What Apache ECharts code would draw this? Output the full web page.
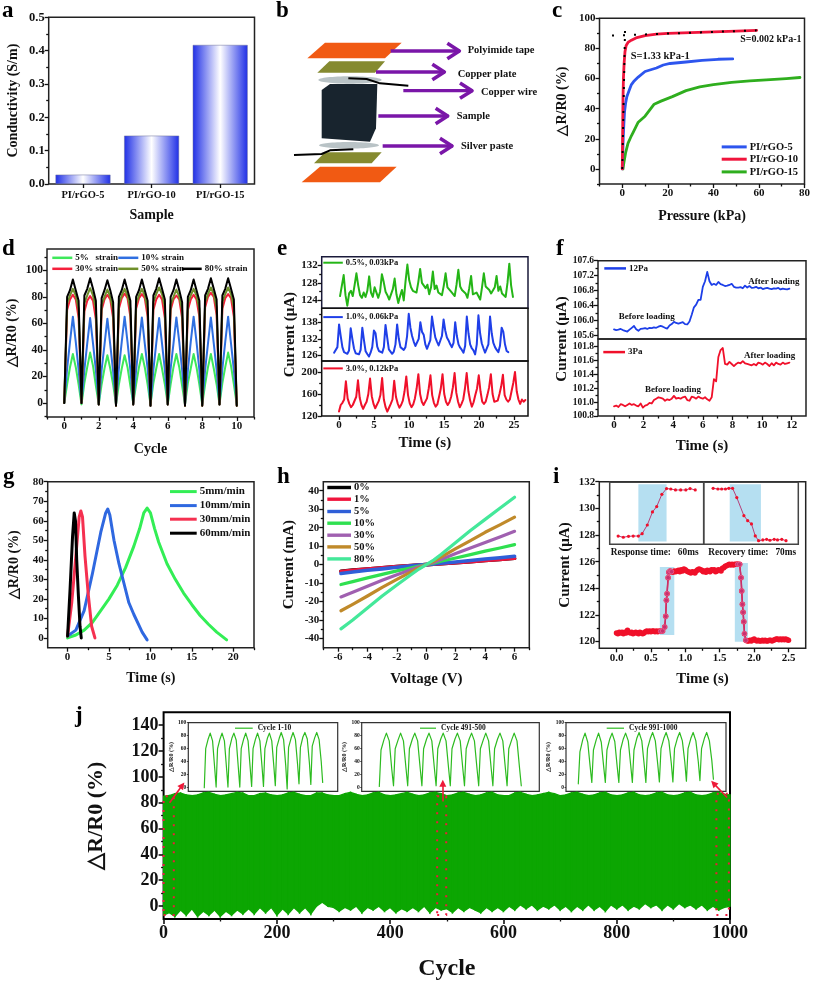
<!DOCTYPE html>
<html><head><meta charset="utf-8">
<style>html,body{margin:0;padding:0;background:#fff}#c{width:813px;height:982px}</style>
<script src="https://cdn.jsdelivr.net/npm/echarts@6/dist/echarts.min.js"></script>
</head><body><div id="c"></div>
<script>
// ---------- data ----------
const aCats=['PI/rGO-5','PI/rGO-10','PI/rGO-15'];
const aVals=[0.028,0.145,0.417];

const cBlue=[[0,0],[.2,10],[.4,20],[.7,30],[1,38],[1.5,44],[2,48],[3,52],[4,56],[5,58],[7,61],[10,64.7],[15,67],[18,69],[21,70],[28,71],[35,72],[42,72.8],[48.5,73]];
const cRed=[[0,0],[.1,15],[.2,30],[.3,45],[.5,60],[.8,70],[1.2,78],[1.7,82],[2.5,84],[4,85.5],[6,87],[10,88.5],[15,89.5],[20,90],[30,90.5],[40,91],[50,91.5],[59,92]];
const cGreen=[[.3,0],[.8,5],[1.5,11],[2.5,17],[4,22],[5,25],[7,31],[10,35],[14,43],[17,45],[22,48],[28,52],[34,54.5],[40,56],[48,57.5],[56,58.5],[65,59.3],[72,60],[78,60.7]];
const cTan1=[[0,0],[1.2,92]];
const cTan2=[[-4.5,88.5],[59,92]];

const dGreen=[0,14,27,37,27,14,-1,15,27,38,28,13,-1,14,26,36,26,14,-1,14,26,36,27,13,0,14,27,37,27,14,-1,15,26,37,26,14,-1,14,27,37,27,13,-1,15,26,37,27,14,-1,14,27,37,26,14,-1,15,27,38,28,14,-1];
const dBlue=[0,26,46,65,46,25,0,25,45,64,45,25,-1,25,44,63.5,44,24,-1,26,46,65,46,25,-1,25,45,64.5,45,26,-2,25,45,64,45,25,-1,26,45,64.5,46,25,-1,25,46,65,46,25,-1,25,45,64.5,45,25,-1,26,46,65,45,25,-1];
const dRed=[0,70,78,81.5,78,64,0,69,77,80.5,77,63,-1,70,78,81.5,78,64,-2,71,79,82.5,79,65,-1,71,79,82,79,65,-2,70,78,81.5,78,64,-1,70,78,81,78,64,-2,70,78,81.5,78,65,-2,72,80,83,80,66,-1,71,79,82,79,65,-2];
const dOlive=[0,75,81,86,81,71,0,75,81,86.5,81,71,-1,74,80,85.5,80,70,-2,75,81,86,81,71,-1,75,81,86,81,71,-2,76,82,87,82,72,-1,74,80,85.5,80,70,-2,75,81,86,81,71,-2,76,82,87,82,72,-1,76,82,87,82,72,-2];
const dBlack=[0,80,85,93,85,77,0,81,86,94,86,77,-1,79,85,92.5,85,76,-2,80,85,93,85,77,-1,80,85,93,85,77,-2,81,86,94,86,78,-1,80,85,93,85,76,-2,80,85,93,85,77,-2,81,86,94,86,78,-1,81,86,94,86,78,-2];

const eGreen=[125.0,125.4,129.8,125.2,122.8,125.6,126.2,125.0,127.5,130.2,127.4,125.2,124.6,125.8,124.8,126.2,129.5,125.8,124.8,127.0,127.2,124.6,126.0,130.0,128.2,126.0,125.2,124.2,124.2,126.6,129.0,125.4,123.4,125.0,126.4,124.0,128.4,132.2,128.6,127.0,126.2,126.6,125.8,128.2,131.2,128.0,128.4,126.8,127.6,125.4,127.0,130.6,126.6,127.4,125.8,125.4,125.2,127.4,130.2,127.0,126.6,126.0,125.8,125.0,127.6,131.0,127.2,126.4,126.8,125.6,124.6,126.8,129.6,125.4,125.0,125.8,126.2,124.2,127.0,130.2,127.2,127.6,126.4,125.6,125.4,127.0,129.6,126.2,127.2,125.6,125.2,124.8,128.0,132.4,127.4,124.8];
const eBlue=[127.0,127.4,129.0,137.2,133.0,129.0,127.2,127.0,126.6,127.8,135.8,132.0,128.5,126.8,126.2,126.4,128.0,136.0,131.5,127.5,126.5,125.6,127.0,129.0,135.0,134.0,129.2,127.6,127.2,127.0,129.0,137.0,132.5,128.2,127.4,126.6,127.4,130.0,137.2,132.0,129.0,128.4,128.0,129.0,133.0,141.0,136.0,133.0,131.0,129.4,129.0,132.0,138.0,134.5,133.5,130.0,128.4,128.6,131.5,140.0,136.0,132.5,131.0,129.6,130.0,133.0,139.0,135.0,132.5,131.4,130.0,129.0,130.5,138.0,133.0,130.0,128.8,128.0,127.0,129.5,140.0,134.0,130.0,128.6,127.8,126.4,130.0,140.5,134.0,130.4,128.6,127.0,127.4,130.0,140.0,134.0,130.5,129.0,128.0,127.2,129.5,136.0,134.5,130.0,127.6,127.2];
const eRed=[128,140,144,150,183,152,142,136,140,143,155,185,153,140,133,140,146,160,188,156,142,134,137,147,158,189,150,136,128,135,142,150,184,155,143,135,140,148,165,192,158,143,136,141,152,170,196,160,146,140,143,152,170,194,158,144,137,141,155,170,196,160,146,140,145,155,172,198,162,146,136,142,150,170,198,165,148,137,145,158,170,194,165,146,142,146,158,172,196,160,146,143,148,160,174,195,158,150,146,150,165,180,200,165,150,142,150,146,149];

const fBlue=[105.76,105.74,105.75,105.77,105.74,105.72,105.70,105.75,105.80,105.85,105.76,105.72,105.77,105.78,105.79,105.77,105.80,105.79,105.81,105.80,105.83,105.85,105.83,105.80,105.78,105.86,105.90,105.96,105.93,105.91,105.93,105.95,105.90,105.89,105.97,106.15,106.35,106.42,106.55,106.55,106.90,107.05,107.30,107.05,106.95,106.98,106.95,107.03,106.97,106.95,106.92,106.93,106.95,106.98,106.90,106.88,106.88,106.89,106.86,106.93,106.88,106.92,106.87,106.88,106.90,106.86,106.88,106.84,106.86,106.87,106.85,106.84,106.86,106.85,106.87,106.83,106.85,106.84,106.83,106.85];
const fRed=[100.94,100.95,100.93,100.97,100.96,100.94,100.96,100.98,100.96,100.97,100.95,100.94,100.98,100.92,100.95,100.96,100.99,100.98,101.03,101.05,101.07,101.06,101.05,101.02,101.04,101.03,101.05,101.09,101.05,101.06,101.05,101.07,101.08,101.03,101.02,101.08,101.07,101.05,101.08,101.06,101.05,101.07,101.04,101.02,101.07,101.33,101.30,101.65,101.75,101.78,101.55,101.54,101.58,101.55,101.52,101.55,101.57,101.56,101.59,101.56,101.55,101.54,101.53,101.55,101.53,101.57,101.56,101.54,101.57,101.55,101.52,101.56,101.53,101.57,101.55,101.54,101.57,101.55,101.56,101.57];

const gGreen=[[0,0],[1,1.5],[2,4],[3,8],[4,14],[5,20],[6,27],[7,36],[8,47],[8.7,56],[9.2,64],[9.6,66.5],[10,64],[10.5,56],[11,49],[12,38],[13,30],[14,23],[15,17],[16,11.5],[17,7],[18,3],[19.2,-1]];
const gBlue=[[0,1],[1,4],[2,14],[3,33],[4,54],[4.6,64],[4.85,66],[5.1,63],[5.6,50],[6.2,38],[6.8,28],[7.4,18],[8,12],[9,3],[9.6,-1]];
const gRed=[[0,1],[.5,18],[1,42],[1.4,62],[1.6,65],[1.8,62],[2.1,42],[2.5,22],[2.9,6],[3.3,0]];
const gBlack=[[0,1],[.3,25],[.6,52],[.8,64],[.95,60],[1.1,40],[1.3,22],[1.5,6],[1.65,0]];

const hV=[-5.8,-5,-4,-3,-2,-1,-.5,0,.5,1,2,3,4,5,6];
const h0=[-3.6,-3,-2.4,-1.7,-1.1,-.5,-.2,0,.2,.5,1,1.6,2.2,2.8,3.4];
const h1=[-3.7,-3.1,-2.4,-1.7,-1.1,-.5,-.2,0,.2,.5,1,1.6,2.2,2.8,3.4];
const h5=[-4.8,-4,-3.1,-2.3,-1.4,-.7,-.3,0,.3,.7,1.4,2.2,3,3.7,4.5];
const h10=[-10.8,-9.2,-7.2,-5.3,-3.4,-1.7,-.8,0,.8,1.8,3.6,5.4,7.3,9,10.8];
const h30=[-17.5,-15,-11.7,-8.5,-5.5,-2.6,-1.2,0,1.2,2.8,6,9,12,15,18];
const h50=[-25,-21.5,-17,-12.3,-8,-3.8,-1.8,0,1.8,4,8.6,13,17.5,21.5,25.7];
const h80=[-34.8,-30,-23.5,-17,-11,-5.2,-2.4,0,2.5,5.5,12,18.5,24.5,30.5,36.5];

const iBefore=[120.65,120.6,120.7,120.65,120.7,120.6,120.7,120.65,120.85,120.7,120.65,120.7,120.6,120.65,120.7,120.65,120.6,120.7,120.65,120.6,120.65,120.75,120.8,120.75,120.8,120.75,120.8,120.8,120.75,120.8,120.75,120.8];
const iRise=[[.64,120.78],[.67,120.8],[.70,121.1],[.715,121.9],[.725,123.1],[.735,123.6],[.75,124.8],[.76,125.2],[.78,125.3],[.80,125.25]];
const iLoaded=[125.2,125.3,125.25,125.3,125.35,125.25,125.4,125.3,125.45,125.4,125.3,125.25,125.2,125.15,125.25,125.2,125.15,125.3,125.4,125.45,125.4,125.35,125.25,125.3,125.2,125.35,125.3,125.25,125.4,125.35,125.4,125.25,125.3,125.4,125.35,125.3,125.5,125.55,125.65,125.7,125.75,125.8,125.75,125.8,125.75,125.8,125.8,125.8];
const iFall=[[1.76,125.8],[1.79,125.8],[1.81,124.8],[1.82,123.8],[1.83,122.8],[1.84,122.2],[1.85,121.5],[1.86,120.6],[1.88,120.1]];
const iAfter=[120.05,120.05,120.1,120.05,120.15,120.2,120.1,120.05,120.1,120.05,120.05,120.1,120.05,120.1,120.05,120.05,120.1,120.1,120.05,120.1,120.15,120.2,120.2,120.15,120.2,120.15,120.2,120.15,120.2,120.15,120.1];
const iIn1=[[.618,120.7],[.629,120.58],[.640,120.67],[.650,120.7],[.661,120.7],[.669,120.93],[.680,121.77],[.691,123.03],[.700,123.55],[.711,124.74],[.721,125.29],[.730,125.25],[.740,125.16],[.751,125.16],[.762,125.16],[.771,125.29],[.782,125.16]];
const iIn2=[[1.670,125.32],[1.680,125.25],[1.688,125.25],[1.696,125.25],[1.703,125.32],[1.711,125.32],[1.720,124.42],[1.735,122.67],[1.743,122.19],[1.751,121.87],[1.759,120.71],[1.766,120.25],[1.775,120.32],[1.783,120.38],[1.790,120.29],[1.799,120.38],[1.806,120.32],[1.815,120.38],[1.824,120.25]];

const jUpper=[85,85.5,87,87.5,86,85.5,86,87.5,88,86.5,85.5,86,87,88,87.5,85.5,85.5,87,87.5,86,85.5,86,87.5,88,86.5,85.5,85.5,87.5,87.5,86,85.5,85.5,87,88,86.5,85.5,86,87.5,88,86,85.5,86,87,88,86.5,85.5,86,87.5,88,87,85.5,86,87.5,88,86.5,85.5,86,87.5,88,86,85.5,85.5,87.5,88,86.5,85.5,86,87,88,87,85.5,86,87.5,88,86.5,85.5,86,87.5,88,86,85.5,86,87.5,88,86,85.5,86,87.5,88,86,85.5,86,87.5,88,86,85.5,86,87.5,88,86.5,86];
const jLower=[-7,-5,-8,-3,-7,-2,-8,-4,-7,-3,-8,-4,-7,-3,-6,-2,-6,-1,-5,-1,-7,-2,-6,-1,-5,-1,-6,0,3,0,-1,-4,-1,-3,0,-5,-1,-3,0,-4,-1,-5,-2,-4,-1,-4,0,-5,-1,-3,-2,-5,-1,-4,-1,-3,-5,-1,-4,-1,-4,0,-3,1,-2,1,-3,0,-2,1,-3,0,-4,0,-3,1,-3,0,-4,1,-2,1,-3,0,-2,2,-1,1,-3,1,-2,2,-1,1,-2,1,-3,0,-3,-1,0];
const jSel=[[[0,-7],[18,85]],[[483,-7],[499,85]],[[976,-7],[998,87]]];
const jIn1=[0,60,75,84,72,30,1,60,75,84,72,30,1,60,76,84,73,30,1,60,75,84,72,30,2,60,75,84,72,32,2,60,76,84,72,32,3,62,76,85,74,34,-2,62,76,85,74,36,6,62,78,85,75,38,5,64,77,85,74,40,8];
const jIn2=[2,58,74,84,72,28,3,60,74,84,72,30,3,60,75,84,72,30,3,60,75,84,72,30,3,60,75,84,72,30,3,60,75,84,72,30,3,60,75,84,72,30,3,60,74,84,72,30,3,60,75,84,72,30,3,60,74,84,72,30,3];
const jIn3=[6,55,74,84,70,32,8,58,74,84,70,32,8,58,75,84,71,32,8,58,75,84,72,34,8,58,76,85,72,35,8,60,76,85,72,36,9,60,76,85,72,38,9,60,76,85,72,40,10,60,76,85,72,40,11,60,76,85,72,42,13];

// ---------- helpers ----------
const FF='"Liberation Serif","Times New Roman",serif';
const grid=[],xAxis=[],yAxis=[],series=[],legend=[],graphic=[];
const INK='#111';
function axis(o,dim,idx){
  const tk=o.ticks;
  const base={gridIndex:idx,type:'value',min:o.min,max:o.max,position:dim==='x'?'bottom':'left',
    axisLine:{show:false,onZero:false},splitLine:{show:false},
    axisTick:{show:!!tk,customValues:tk||[],length:o.tl||4,lineStyle:{color:INK,width:o.tw||1.3}},
    axisLabel:{show:!!tk&&!o.noLabel,customValues:tk||[],margin:o.margin==null?4:o.margin,hideOverlap:false,
      showMinLabel:true,showMaxLabel:true,
      fontFamily:FF,fontWeight:'bold',fontSize:o.font||11,color:INK,
      formatter:v=>(o.dec?(+v).toFixed(o.dec):String(+v))}};
  if(o.name){Object.assign(base,{name:o.name,nameLocation:'middle',nameGap:o.gap,
    nameTextStyle:{fontFamily:FF,fontWeight:'bold',fontSize:o.nameFont||14,color:INK}});}
  return base;
}
function panel(p){
  const g=grid.length;
  grid.push({left:p.l,top:p.t,width:p.r-p.l,height:p.b-p.t,show:true,borderColor:p.bc||'#222',borderWidth:p.bw==null?1.5:p.bw,backgroundColor:p.bg||'transparent'});
  const xi=xAxis.length,yi=yAxis.length;
  xAxis.push(p.xCat?p.xCat(g):axis(p.x,'x',g));
  yAxis.push(axis(p.y,'y',g));
  if(p.x&&p.x.minor){xAxis.push(axis({min:p.x.min,max:p.x.max,ticks:p.x.minor,noLabel:true,tl:p.x.mtl||2.5},'x',g));}
  if(p.y&&p.y.minor){yAxis.push(axis({min:p.y.min,max:p.y.max,ticks:p.y.minor,noLabel:true,tl:p.y.mtl||2.5},'y',g));}
  return {xi,yi};
}
function line(ax,name,data,color,width,extra){
  const s=Object.assign({type:'line',name,xAxisIndex:ax.xi,yAxisIndex:ax.yi,data,symbol:'none',
    lineStyle:{color,width,cap:'round',join:'round'},itemStyle:{color},silent:true,clip:true},extra||{});
  series.push(s);return s;
}
function leg(name,x,yc,w,font,h){
  legend.push({data:[name],left:x,top:yc-font*0.6,itemWidth:w,itemHeight:h||2.5,icon:'rect',padding:0,selectedMode:false,
    textStyle:{fontFamily:FF,fontWeight:'bold',fontSize:font,color:INK,padding:[0,0,0,-2]}});
}
function note(x,y,text,font,opt){
  opt=opt||{};
  graphic.push({type:'text',x,y,rotation:opt.rot||0,z:20,silent:true,style:{text,fill:opt.fill||INK,font:'bold '+font+'px '+FF,textAlign:opt.align||'left',textVerticalAlign:opt.va||'middle'}});
}
const xy=(xs,ys)=>ys.map((v,i)=>[xs[i],v]);
const ser=(start,step,ys)=>ys.map((v,i)=>[+(start+i*step).toFixed(3),v]);

// letters
[['a',2,23],['b',276,23],['c',552,23],['d',2,261],['e',277,261],['f',556,261],['g',3,489],['h',277,489],['i',553,489],['j',75,728]]
 .forEach(a=>note(a[1],a[2],a[0],23,{va:'bottom',fill:'#000'}));

// ---- a
{const ax=panel({l:48.7,t:17.3,r:254.5,b:184,
  xCat:g=>({gridIndex:g,type:'category',data:aCats,position:'bottom',axisLine:{show:false,onZero:false},
    axisTick:{show:true,alignWithLabel:true,length:4,lineStyle:{color:INK,width:1.3}},
    axisLabel:{margin:6,fontFamily:FF,fontWeight:'bold',fontSize:10.5,color:INK},
    name:'Sample',nameLocation:'middle',nameGap:24,nameTextStyle:{fontFamily:FF,fontWeight:'bold',fontSize:14,color:INK}}),
  y:{min:0,max:.5,ticks:[0,.1,.2,.3,.4,.5],dec:1,font:12.5,minor:[.05,.15,.25,.35,.45],name:'Conductivity (S/m)',gap:28}});
 series.push({type:'bar',name:'Conductivity',xAxisIndex:ax.xi,yAxisIndex:ax.yi,data:aVals,barWidth:'80%',silent:true,
  itemStyle:{color:{type:'linear',x:0,y:0,x2:1,y2:0,colorStops:[{offset:0,color:'#1f2fe6'},{offset:.5,color:'#ffffff'},{offset:1,color:'#1f2fe6'}]},borderColor:'#6a6f9a',borderWidth:.5}});
}

// ---- b diagram
{const P=(a)=>a.map(p=>[270+p[0]/3,p[1]/3]);
 const poly=(pts,fill)=>graphic.push({type:'polygon',z:5,silent:true,shape:{points:P(pts)},style:{fill}});
 const pl=(pts,stroke,w)=>graphic.push({type:'polyline',z:6,silent:true,shape:{points:P(pts)},style:{stroke,lineWidth:w,fill:'none',lineJoin:'round'}});
 const el=(cx,cy,rx,ry,fill)=>graphic.push({type:'ellipse',z:5,silent:true,shape:{cx:270+cx/3,cy:cy/3,rx:rx/3,ry:ry/3},style:{fill}});
 poly([[112,175],[345,175],[395,128],[165,128]],'#f15a13');
 poly([[142,218],[315,218],[345,184],[178,184]],'#858a30');
 el(240,240,95,11,'#b9c3c6');
 poly([[155,270],[180,252],[322,252],[318,385],[300,425],[155,415]],'#18242e');
 el(237,436,90,10,'#b9c3c6');
 poly([[132,490],[305,490],[335,457],[165,457]],'#858a30');
 poly([[95,547],[330,547],[380,500],[150,500]],'#f15a13');
 pl([[235,235],[290,237],[330,250],[415,257]],'#000',2);
 pl([[72,465],[155,462],[180,451],[250,448]],'#000',2);
 [[362,153,570],[318,216,525],[400,272,608],[325,348,535],[338,438,548]].forEach(a=>{
   pl([[a[0],a[1]],[a[2],a[1]]],'#7a16a8',3.4);
   pl([[a[2]-38,a[1]-23],[a[2]-2,a[1]],[a[2]-38,a[1]+23]],'#7a16a8',3.6);
 });
 [['Polyimide tape',593,150],['Copper plate',563,222],['Copper wire',633,277],['Sample',560,350],['Silver paste',573,438]]
  .forEach(t=>note(270+t[1]/3,t[2]/3,t[0],10.5));
}

// ---- c
{const ax=panel({l:599.5,t:18.3,r:805,b:184,
  x:{min:-10,max:80,ticks:[0,20,40,60,80],font:11,minor:[-10,10,30,50,70],name:'Pressure (kPa)',gap:25},
  y:{min:-10,max:100,ticks:[0,20,40,60,80,100],font:11,minor:[-10,10,30,50,70,90],name:'△R/R0 (%)',gap:30}});
 line(ax,'PI/rGO-15',cGreen,'#2fae1e',2.8);
 line(ax,'PI/rGO-5',cBlue,'#2d55ee',2.8);
 line(ax,'PI/rGO-10',cRed,'#f0143c',2.8);
 line(ax,'tan1',cTan1,'#000',2,{lineStyle:{color:'#000',width:2,type:[2,6]}});
 line(ax,'tan2',cTan2,'#000',2,{lineStyle:{color:'#000',width:2,type:[2,9]}});
 leg('PI/rGO-5',721.7,147.7,25,10.5,3);leg('PI/rGO-10',721.7,160,25,10.5,3);leg('PI/rGO-15',721.7,172.7,25,10.5,3);
 note(630.7,56.5,'S=1.33 kPa-1',10.5);note(740.3,39,'S=0.002 kPa-1',10);
}

// ---- d
{const ax=panel({l:47,t:249,r:254,b:417,
  x:{min:-1,max:11,ticks:[0,2,4,6,8,10],font:11,minor:[-1,1,3,5,7,9,11],name:'Cycle',gap:25},
  y:{min:-10.5,max:116,ticks:[0,20,40,60,80,100],font:11.5,minor:[-10,10,30,50,70,90,110],name:'△R/R0 (%)',gap:28}});
 const t=a=>ser(0,1/6,a);
 const w=2;
 line(ax,'5%   strain',t(dGreen),'#3ee85a',w);
 line(ax,'10% strain',t(dBlue),'#2f6fe0',w);
 line(ax,'30% strain',t(dRed),'#f5203c',w);
 line(ax,'50% strain',t(dOlive),'#6f8f2a',w);
 line(ax,'80% strain',t(dBlack),'#000',w);
 leg('5%   strain',52.3,258.7,20,9);leg('10% strain',118.3,258.7,20,9);
 leg('30% strain',52.3,269.7,20,9);leg('50% strain',118.3,269.7,20,9);leg('80% strain',181.7,269.7,20,9);
}

// ---- e
{const L=321.7,R=528,xm=-2.47,xM=27;
 const a1=panel({l:L,t:256.7,r:R,b:308.3,bc:'#1a1a3a',x:{min:xm,max:xM},y:{min:122.2,max:134,ticks:[124,128,132],font:11,minor:[126,130]}});
 const a2=panel({l:L,t:308.3,r:R,b:361,bc:'#111',x:{min:xm,max:xM},y:{min:124,max:143,ticks:[126,132,138],font:11,minor:[129,135,141],name:'Current (μA)',gap:23,nameFont:15}});
 const a3=panel({l:L,t:361,r:R,b:416,bc:'#111',x:{min:xm,max:xM,ticks:[0,5,10,15,20,25],font:11,minor:[2.5,7.5,12.5,17.5,22.5],name:'Time (s)',gap:20,nameFont:15},y:{min:120,max:220,ticks:[120,160,200],font:11,minor:[140,180]}});
 line(a1,'0.5%, 0.03kPa',ser(.15,.26,eGreen),'#24b516',2);
 line(a2,'1.0%, 0.06kPa',ser(-.7,.237,eBlue),'#1f3fe8',2);
 line(a3,'3.0%, 0.12kPa',ser(0,.2465,eRed),'#f0102a',2);
 leg('0.5%, 0.03kPa',323.3,263.3,19.5,8.5,2);leg('1.0%, 0.06kPa',323.3,317.7,19.5,8.5,2);leg('3.0%, 0.12kPa',323.3,369,19.5,8.5,2);
}

// ---- f
{const L=598,R=806,xm=-1.08,xM=12.97;
 const a1=panel({l:L,t:260.7,r:R,b:339,x:{min:xm,max:xM},y:{min:105.5,max:107.6,ticks:[105.6,106,106.4,106.8,107.2,107.6],dec:1,font:9.5,minor:[105.8,106.2,106.6,107,107.4]}});
 const a2=panel({l:L,t:339,r:R,b:416,x:{min:xm,max:xM,ticks:[0,2,4,6,8,10,12],font:11,minor:[1,3,5,7,9,11],name:'Time (s)',gap:23,nameFont:15},y:{min:100.8,max:101.91,ticks:[100.8,101,101.2,101.4,101.6,101.8],dec:1,font:9.5,minor:[100.9,101.1,101.3,101.5,101.7]}});
 line(a1,'12Pa',ser(0,.15,fBlue),'#1d3fe8',1.8);
 line(a2,'3Pa',ser(0,.15,fRed),'#f0102a',1.8);
 leg('12Pa',604.3,269.3,21.7,9);leg('3Pa',603.3,353,21.7,9);
 note(562,339,'Current (μA)',15,{rot:Math.PI/2,align:'center',fill:INK});
 note(618.7,316.7,'Before loading',9);note(748.3,282,'After loading',9);
 note(645,389.7,'Before loading',9);note(744,355.7,'After loading',9);
}

// ---- g
{const ax=panel({l:47.7,t:481.7,r:254,b:647.7,
  x:{min:-2.4,max:22.5,ticks:[0,5,10,15,20],font:11,minor:[2.5,7.5,12.5,17.5,22.5],name:'Time (s)',gap:24},
  y:{min:-5,max:80,ticks:[0,10,20,30,40,50,60,70,80],font:11,minor:[5,15,25,35,45,55,65,75],name:'△R/R0 (%)',gap:26}});
 line(ax,'5mm/min',gGreen,'#33ee55',3);
 line(ax,'10mm/min',gBlue,'#2f68e0',3);
 line(ax,'30mm/min',gRed,'#f53050',3);
 line(ax,'60mm/min',gBlack,'#000',3);
 leg('5mm/min',170,492.7,26.7,11,3);leg('10mm/min',170,506.7,26.7,11,3);leg('30mm/min',170,520.3,26.7,11,3);leg('60mm/min',170,534.3,26.7,11,3);
}

// ---- h
{const ax=panel({l:323.3,t:481.7,r:529.3,b:647.7,
  x:{min:-7,max:7,ticks:[-6,-4,-2,0,2,4,6],font:11,minor:[-7,-5,-3,-1,1,3,5,7],name:'Voltage (V)',gap:24,nameFont:15},
  y:{min:-45,max:44.9,ticks:[-40,-30,-20,-10,0,10,20,30,40],font:11,minor:[-35,-25,-15,-5,5,15,25,35],name:'Current (mA)',gap:27,nameFont:15}});
 const n=['0%','1%','5%','10%','30%','50%','80%'],d=[h0,h1,h5,h10,h30,h50,h80],c=['#000','#f0143c','#2f5fd8','#2fe050','#a060b0','#c08a2a','#44e89a'];
 const ys=[488.3,500,512.3,524,536,547.7,559.7];
 n.forEach((k,i)=>{line(ax,k,xy(hV,d[i]),c[i],i<3?3.6:3.2);leg(k,327.3,ys[i],23.7,10.5,3.4);});
}

// ---- i
{const ax=panel({l:599.3,t:481.7,r:805.7,b:648.3,
  x:{min:-.25,max:2.75,ticks:[0,.5,1,1.5,2,2.5],dec:1,font:11,minor:[.25,.75,1.25,1.75,2.25],name:'Time (s)',gap:23,nameFont:15},
  y:{min:119.5,max:132,ticks:[120,122,124,126,128,130,132],font:11,minor:[121,123,125,127,129,131],name:'Current (μA)',gap:27,nameFont:15}});
 const RED='#f0102a';
 const all=[].concat(ser(0,.02,iBefore),iRise,ser(.82,.02,iLoaded),iFall,ser(1.9,.02,iAfter));
 line(ax,'Current',all,RED,1.5,{symbol:'circle',symbolSize:5.5,showSymbol:true,z:3,
   markArea:{silent:true,itemStyle:{color:'rgba(150,210,235,.7)'},data:[[{coord:[.63,125.6]},{coord:[.84,120.5]}],[{coord:[1.72,125.9]},{coord:[1.91,120]}]]}});
 const mag='#c8306e';
 line(ax,'Rise',iRise,mag,1.3,{symbol:'circle',symbolSize:4.5,showSymbol:true,z:4,itemStyle:{color:mag,borderColor:'#e86090',borderWidth:.8}});
 line(ax,'Fall',iFall,mag,1.3,{symbol:'circle',symbolSize:4.5,showSymbol:true,z:4,itemStyle:{color:mag,borderColor:'#e86090',borderWidth:.8}});
 const i1=panel({l:609.7,t:482.3,r:703.7,b:544.3,bc:'#444',x:{min:.6,max:.8},y:{min:119.9,max:125.9}});
 const i2=panel({l:703.7,t:482.3,r:798.3,b:544.3,bc:'#444',x:{min:1.65,max:1.85},y:{min:119.9,max:125.9}});
 const sty={symbol:'circle',symbolSize:3.2,showSymbol:true,z:4,itemStyle:{color:RED}};
 line(i1,'Response',iIn1,'#b5407a',1,Object.assign({markArea:{silent:true,itemStyle:{color:'rgba(150,210,235,.7)'},data:[[{coord:[.661,125.7]},{coord:[.721,120.16]}]]}},sty));
 line(i2,'Recovery',iIn2,'#b5407a',1,Object.assign({markArea:{silent:true,itemStyle:{color:'rgba(150,210,235,.7)'},data:[[{coord:[1.705,125.7]},{coord:[1.771,120.16]}]]}},sty));
 note(610.7,553,'Response time:   60ms',9.3);note(708.3,553,'Recovery time:   70ms',9.3);
}

// ---- j
{const ax=panel({l:163.6,t:712.3,r:730,b:930.7,bw:2,bc:'#000',
  x:{min:0,max:1000,ticks:[0,200,400,600,800,1000],font:18,margin:5,tl:5,tw:1.6,minor:[100,300,500,700,900],name:'Cycle',gap:38,nameFont:24},
  y:{min:-10,max:150,ticks:[0,20,40,60,80,100,120,140],font:18,margin:5,tl:5,tw:1.6,minor:[10,30,50,70,90,110,130],name:'△R/R0 (%)',gap:56,nameFont:22}});
 const GR='#0ca602';
 const band=jUpper.map((u,i)=>[i*10,jLower[i],u]);
 series.push({type:'custom',name:'ΔR/R0',xAxisIndex:ax.xi,yAxisIndex:ax.yi,data:band,encode:{x:0,y:[1,2]},silent:true,z:2,clip:true,
   renderItem(p,api){
     const i=p.dataIndex;if(i>=band.length-1)return null;
     const a=band[i],b=band[i+1];
     return {type:'polygon',shape:{points:[api.coord([a[0],a[2]]),api.coord([b[0],b[2]]),api.coord([b[0],b[1]]),api.coord([a[0],a[1]])]},style:{fill:GR,stroke:GR,lineWidth:1.4}};
   }});
 line(ax,'marks',[[0,0]],'rgba(0,0,0,0)',0,{z:6,
   markArea:{silent:true,z:6,itemStyle:{color:'rgba(0,0,0,0)',borderColor:'#ee1a3a',borderWidth:2,borderType:[2,7]},
     data:jSel.map(r=>[{coord:r[0]},{coord:r[1]}])},
   markLine:{silent:true,symbol:['none','triangle'],symbolSize:7,label:{show:false},lineStyle:{color:'#ee1a3a',width:1.6,type:'solid'},
     data:[[{coord:[10.6,80]},{coord:[33,93.5]}],[{coord:[493,81]},{coord:[493,95]}],[{coord:[995,84]},{coord:[971,95]}]]}});
 const inset=(l,r,xm,xM,name,data,legX,legW,legF)=>{
   const a=panel({l,t:722.7,r,b:791.3,bc:'#333',bw:1.2,bg:'#fff',
     x:{min:xm,max:xM},
     y:{min:-5.5,max:100,ticks:[0,20,40,60,80,100],font:5.5,margin:2,tl:1.5,tw:.7,name:'△R/R0 (%)',gap:13,nameFont:6}});
   const fr=[0,.12,.33,.5,.7,.88];
   const pts=data.map((v,i)=>[Math.floor(i/6)+fr[i%6],v]);
   line(a,name,pts,'#2dbb20',1.2);
   legend.push({data:[name],left:legX,top:724.2,itemWidth:legW,itemHeight:1.2,icon:'rect',padding:0,selectedMode:false,
     textStyle:{fontFamily:FF,fontWeight:'bold',fontSize:legF,color:INK}});
 };
 inset(188.3,337.7,-1.35,11.27,'Cycle 1-10',jIn1,235,17.7,7.5);
 inset(361.7,539.3,-1.24,11.27,'Cycle 491-500',jIn2,420,16,7.5);
 inset(566,726,-.91,10.93,'Cycle 991-1000',jIn3,606.7,17.3,7.5);
}

const chart=echarts.init(document.getElementById('c'),null,{renderer:'canvas'});
chart.setOption({animation:false,backgroundColor:'#fff',grid,xAxis,yAxis,series,legend,graphic:{elements:graphic},tooltip:{show:false}});
</script></body></html>
